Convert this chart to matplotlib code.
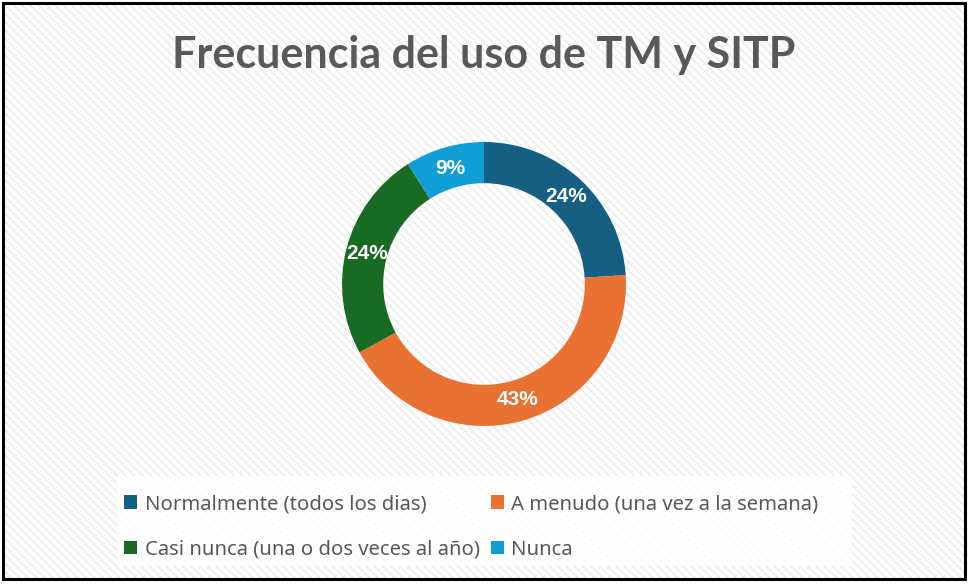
import matplotlib.pyplot as plt
from matplotlib.patches import Rectangle, Patch

# data
labels = ['Normalmente (todos los dias)', 'A menudo (una vez a la semana)',
          'Casi nunca (una o dos veces al año)', 'Nunca']
values = [24, 43, 24, 9]
colors = ['#156082', '#E97132', '#196B24', '#0F9ED5']
title = 'Frecuencia del uso de TM y SITP'

W, H = 968, 586
fig = plt.figure(figsize=(W / 100, H / 100), dpi=100)
fig.patch.set_facecolor('white')

# background with diagonal stripes + border
bg = fig.add_axes([0, 0, 1, 1])
bg.set_xlim(0, W); bg.set_ylim(H, 0)
bg.axis('off')
plt.rcParams['hatch.linewidth'] = 1.4
bg.add_patch(Rectangle((3, 3), 962, 576, facecolor='white', edgecolor='#eeeeee', lw=0,
                       hatch='\\\\\\\\'))
bg.add_patch(Rectangle((3, 3), 962, 576, facecolor='none', edgecolor='black', lw=2.2))
# white legend box
bg.add_patch(Rectangle((117, 476), 735, 90, facecolor='white', edgecolor='none', alpha=0.85))

fig.text(0.5, 1 - 55 / H, title, ha='center', va='center', fontsize=31,
         fontweight='bold', color='#595959', family='Lato')

# donut
r = 142
cx, cy = 484, 284
ax = fig.add_axes([(cx - r) / W, 1 - (cy + r) / H, 2 * r / W, 2 * r / H])
wedges, texts, autotexts = ax.pie(values, colors=colors, startangle=90, counterclock=False,
                                  radius=1, autopct='%1.0f%%', pctdistance=0.85,
                                  wedgeprops=dict(width=0.29, edgecolor='none'),
                                  textprops=dict(color='white', fontsize=15, fontweight='bold',
                                                 family='Liberation Sans'))
ax.set_xlim(-1, 1); ax.set_ylim(-1, 1)
ax.set_aspect('equal')

# legend (row-major order)
handles = [Patch(facecolor=c, edgecolor='none') for c in colors]
order = [0, 2, 1, 3]
fig.legend([handles[i] for i in order], [labels[i] for i in order], ncol=2,
           loc='center left', bbox_to_anchor=(106 / W, 1 - 527 / H), frameon=False,
           prop=dict(family='Noto Sans', size=14.6), labelcolor='#595959',
           handlelength=0.65, handleheight=0.65, handletextpad=0.35,
           columnspacing=0.55, labelspacing=1.25)

plt.savefig('out.png', dpi=100)
